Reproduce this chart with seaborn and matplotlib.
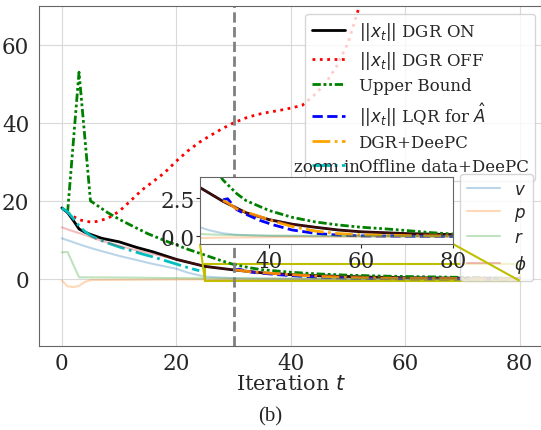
import numpy as np
import matplotlib as mpl
import matplotlib.pyplot as plt
import seaborn as sns
from mpl_toolkits.axes_grid1.inset_locator import mark_inset

# Values
t_on = [0, 1, 2, 3, 4, 5, 7, 10, 13, 16, 20, 25, 30, 35, 40, 45, 50, 55, 60, 70, 80]
x_on = [18.2, 17.0, 15.0, 12.8, 12.0, 11.4, 10.4, 9.5, 8.1, 6.9, 5.0, 3.2, 2.3, 1.55, 1.1, 0.8, 0.6, 0.42, 0.3, 0.18, 0.12]

t_off = [1, 2, 3, 4, 5, 6, 8, 10, 12, 14, 16, 18, 20, 22, 24, 26, 28, 30, 32, 34, 36, 38, 40, 42, 44, 46, 48, 50, 52, 54]
x_off = [17.0, 16.0, 15.2, 14.8, 14.6, 14.7, 15.5, 17.3, 20.0, 22.8, 25.0, 27.3, 30.2, 32.8, 35.0, 36.8, 38.5, 40.0,
         41.2, 42.1, 42.7, 43.2, 43.8, 44.5, 47.0, 50.0, 54.5, 60.5, 70.0, 82.0]

t_ub = [1, 2, 3, 4, 5, 8, 10, 12, 15, 18, 20, 22, 25, 28, 30, 33, 35, 40, 45, 50, 55, 60, 65, 70, 75, 80]
x_ub = [17.0, 35.0, 53.0, 36.5, 20.0, 17.0, 15.3, 13.8, 11.6, 9.8, 8.7, 7.6, 6.1, 4.6, 3.7, 2.8, 2.35, 1.7, 1.25,
        0.95, 0.75, 0.6, 0.5, 0.38, 0.25, 0.15]

t_lqr = [30, 31, 32, 33, 35, 38, 41, 45, 50, 55, 60, 70, 80]
x_lqr = [2.4, 2.47, 2.1, 1.75, 1.45, 1.05, 0.75, 0.42, 0.2, 0.08, 0.03, 0.01, 0.0]

t_dp = [30, 31, 33, 35, 38, 41, 45, 50, 55, 60, 70, 80]
x_dp = [2.35, 2.2, 1.8, 1.6, 1.3, 1.0, 0.65, 0.35, 0.18, 0.1, 0.05, 0.02]

t_off_dp = [0, 1, 2, 3, 4, 5, 6, 8, 10, 12, 14, 16, 18, 20, 22, 24]
x_off_dp = [18.2, 17.2, 15.5, 13.6, 12.2, 11.1, 10.4, 9.2, 8.2, 7.3, 6.4, 5.6, 4.7, 3.8, 2.9, 2.1]

# individual states
t_v = [0, 2, 4, 6, 8, 10, 12, 14, 16, 18, 20, 22, 24, 25, 27, 30, 33, 40, 50, 80]
s_v = [10.4, 9.4, 8.4, 7.5, 6.7, 5.9, 5.2, 4.5, 3.8, 3.2, 2.6, 1.6, 0.9, 0.6, 0.4, 0.2, 0.1, 0.03, 0.01, 0.0]
t_p = [0, 1, 2, 3, 4, 5, 10, 20, 30, 50, 80]
s_p = [-0.4, -1.9, -2.1, -1.8, -0.8, -0.3, -0.25, -0.15, -0.08, -0.03, 0.0]
t_r = [0, 1, 3, 10, 20, 30, 40, 80]
s_r = [6.8, 6.9, 0.4, 0.35, 0.2, 0.1, 0.05, 0.0]
t_phi = [0, 2, 4, 6, 8, 10, 12, 15, 20, 25, 30, 35, 40, 45, 50, 55, 60, 70, 80]
s_phi = [13.2, 12.2, 11.3, 10.2, 9.3, 8.5, 7.7, 6.7, 5.0, 3.2, 2.3, 1.55, 1.1, 0.8, 0.6, 0.42, 0.3, 0.18, 0.12]

sns.set_style("whitegrid")
mpl.rcParams['font.family'] = 'serif'
mpl.rcParams['font.serif'] = ['DejaVu Serif']
mpl.rcParams['axes.edgecolor'] = '0.4'
mpl.rcParams['grid.color'] = '0.85'


def draw(ax):
    main = []
    main.append(sns.lineplot(x=t_on, y=x_on, ax=ax, color='k', lw=2, label=r'$||x_t||$ DGR ON').get_lines()[-1])
    main.append(sns.lineplot(x=t_off, y=x_off, ax=ax, color='red', lw=2, linestyle=':',
                             label=r'$||x_t||$ DGR OFF').get_lines()[-1])
    main.append(sns.lineplot(x=t_ub, y=x_ub, ax=ax, color='green', lw=2, linestyle=(0, (3, 1, 1, 1, 1, 1)),
                             label='Upper Bound').get_lines()[-1])
    main.append(sns.lineplot(x=t_lqr, y=x_lqr, ax=ax, color='blue', lw=2, linestyle='--',
                             label=r'$||x_t||$ LQR for $\hat{A}$').get_lines()[-1])
    main.append(sns.lineplot(x=t_dp, y=x_dp, ax=ax, color='orange', lw=2, linestyle='-.',
                             label='DGR+DeePC').get_lines()[-1])
    main.append(sns.lineplot(x=t_off_dp, y=x_off_dp, ax=ax, color='c', lw=2, linestyle='-.',
                             label='Offline data+DeePC').get_lines()[-1])
    states = []
    for tt, ss, col, name in [(t_v, s_v, 'tab:blue', '$v$'), (t_p, s_p, 'tab:orange', '$p$'),
                              (t_r, s_r, 'tab:green', '$r$'), (t_phi, s_phi, 'tab:red', r'$\phi$')]:
        states.append(sns.lineplot(x=tt, y=ss, ax=ax, color=col, lw=1.5, alpha=0.3, label=name).get_lines()[-1])
    return main, states


fig = plt.figure(figsize=(5.41, 4.31), dpi=100)
ax = fig.add_axes([0.072, 0.195, 0.931, 0.789])
main, states = draw(ax)
ax.axvline(30, color='gray', linestyle='--', lw=2)
ax.set_xlim(-4, 84)
ax.set_ylim(-17.2, 70)
ax.set_xticks([0, 20, 40, 60, 80])
ax.set_yticks([0, 20, 40, 60])
ax.tick_params(labelsize=15.5)
ax.tick_params(axis='x', pad=1)
ax.set_xlabel('Iteration $t$', fontsize=15, labelpad=0)

leg1 = ax.legend(handles=main, loc='upper right', fontsize=12, bbox_to_anchor=(0.989, 0.966),
                 bbox_transform=fig.transFigure, borderaxespad=0, labelspacing=0.38)
ax.add_artist(leg1)
ax.legend(handles=states, loc='upper right', fontsize=12, bbox_to_anchor=(0.985, 0.594),
          bbox_transform=fig.transFigure, borderaxespad=0, labelspacing=0.38)

# zoomed inset
axins = fig.add_axes([0.3697, 0.4316, 0.4677, 0.1555])
draw(axins)
axins.get_legend().remove()
axins.set_xlim(25, 80)
axins.set_ylim(-0.5, 3.9)
axins.grid(False)
axins.set_xticks([40, 60, 80])
axins.set_yticks([0.0, 2.5])
axins.set_yticklabels(['0.0', '2.5'])
axins.tick_params(labelsize=15.5, left=True, bottom=True, length=3, pad=1)
axins.set_title('zoom in', fontsize=12, pad=4)
mark_inset(ax, axins, loc1=3, loc2=4, fc='none', ec='y', lw=1.5)

fig.text(0.5, 0.022, '(b)', ha='center', fontsize=15, family='Liberation Serif')

fig.savefig('out.png', dpi=100)
